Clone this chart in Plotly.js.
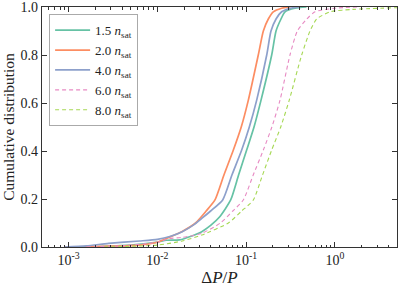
<!DOCTYPE html>
<html>
<head>
<meta charset="utf-8">
<script src="https://cdn.plot.ly/plotly-3.0.1.min.js"></script>
<style>html,body{margin:0;padding:0;background:#fff;}#chart{width:399px;height:288px;}</style>
</head>
<body>
<div id="chart"></div>
<script>
// Series names
const seriesNames = ['1.5 <i>n</i><sub>sat</sub>', '2.0 <i>n</i><sub>sat</sub>', '4.0 <i>n</i><sub>sat</sub>', '6.0 <i>n</i><sub>sat</sub>', '8.0 <i>n</i><sub>sat</sub>'];

// Data: log10(ΔP/P) and cumulative fraction
const logX_15 = [-3.0, -2.6, -2.3, -2.0, -1.9, -1.75, -1.62, -1.5, -1.4, -1.3, -1.174, -1.085, -0.994, -0.911, -0.832, -0.712, -0.663, -0.607, -0.562, -0.45, -0.32];
const cdf_15  = [0, 0.003, 0.008, 0.02, 0.028, 0.03, 0.045, 0.064, 0.09, 0.125, 0.196, 0.3, 0.404, 0.5, 0.612, 0.8, 0.9, 0.95, 0.98, 0.995, 1.0];

const logX_20 = [-3.05, -2.6, -2.2, -2.0, -1.87, -1.72, -1.57, -1.45, -1.351, -1.25, -1.144, -1.055, -0.975, -0.863, -0.806, -0.75, -0.694, -0.6, -0.5];
const cdf_20  = [0, 0.003, 0.008, 0.02, 0.04, 0.065, 0.1, 0.15, 0.196, 0.3, 0.404, 0.5, 0.612, 0.8, 0.9, 0.95, 0.98, 0.995, 1.0];

const logX_40 = [-3.05, -2.8, -2.55, -2.2, -2.0, -1.85, -1.72, -1.6, -1.497, -1.4, -1.264, -1.16, -1.05, -0.964, -0.881, -0.768, -0.72, -0.663, -0.6, -0.5, -0.39];
const cdf_40  = [0, 0.005, 0.015, 0.025, 0.032, 0.045, 0.064, 0.09, 0.12, 0.15, 0.196, 0.3, 0.404, 0.5, 0.612, 0.8, 0.9, 0.95, 0.98, 0.995, 1.0];

const logX_60 = [-2.8, -2.4, -2.0, -1.87, -1.72, -1.5, -1.29, -1.15, -1.032, -0.92, -0.806, -0.71, -0.618, -0.506, -0.423, -0.317, -0.224, 0.0, 0.25];
const cdf_60  = [0, 0.005, 0.02, 0.035, 0.04, 0.057, 0.1, 0.15, 0.196, 0.3, 0.404, 0.5, 0.612, 0.8, 0.9, 0.95, 0.98, 0.995, 1.0];

const logX_80 = [-2.6, -2.0, -1.72, -1.5, -1.2, -1.05, -0.919, -0.815, -0.712, -0.61, -0.514, -0.374, -0.28, -0.205, -0.055, 0.2, 0.7];
const cdf_80  = [0, 0.008, 0.025, 0.05, 0.1, 0.15, 0.196, 0.3, 0.404, 0.5, 0.612, 0.8, 0.9, 0.95, 0.98, 0.99, 0.997];

const colors = ['#66c2a5', '#fc8d62', '#8da0cb', '#e78ac3', '#a6d854'];
const dashes = ['solid', 'solid', 'solid', '4px,3px', '4px,3px'];

const xTickVals = [0.001, 0.01, 0.1, 1];
const xTickText = ['10<sup>-3</sup>', '10<sup>-2</sup>', '10<sup>-1</sup>', '10<sup>0</sup>'];

const allLog = [logX_15, logX_20, logX_40, logX_60, logX_80];
const allCdf = [cdf_15, cdf_20, cdf_40, cdf_60, cdf_80];

const traces = allLog.map((lx, i) => ({
  x: lx.map(v => Math.pow(10, v)),
  y: allCdf[i],
  type: 'scatter',
  mode: 'lines',
  name: seriesNames[i],
  line: {color: colors[i], width: i < 3 ? 1.7 : 1.1, dash: dashes[i], shape: 'spline', smoothing: 0.6}
}));

// minor tick positions on log axis
const minorVals = [];
for (let e = -4; e <= 1; e++) {
  for (let k = 2; k <= 9; k++) minorVals.push(k * Math.pow(10, e));
}

const font = {family: '"Liberation Serif", "DejaVu Serif", serif', color: '#222'};

const layout = {
  width: 399, height: 288,
  margin: {l: 42, r: 2, t: 7, b: 41},
  paper_bgcolor: '#fff', plot_bgcolor: '#fff',
  font: Object.assign({size: 14}, font),
  showlegend: true,
  legend: {
    x: 0.02, y: 0.97, xanchor: 'left', yanchor: 'top',
    bgcolor: '#fff', bordercolor: '#aaa', borderwidth: 1,
    font: Object.assign({size: 13}, font),
    itemwidth: 35,
    tracegroupgap: 0
  },
  xaxis: {
    type: 'log',
    range: [-3.3, 0.7],
    tickmode: 'array', tickvals: xTickVals, ticktext: xTickText,
    ticks: 'inside', ticklen: 5, tickwidth: 1, tickcolor: '#333',
    showline: true, linecolor: '#333', linewidth: 1.2, mirror: 'ticks',
    showgrid: false, zeroline: false,
    ticklabeloverflow: 'allow',
    tickfont: Object.assign({size: 14}, font),
    minor: {tickmode: 'array', tickvals: minorVals, ticks: 'inside', ticklen: 2.5, tickcolor: '#333', showgrid: false},
    title: {text: 'Δ<i>P</i>/<i>P</i>', font: Object.assign({size: 17}, font), standoff: 2}
  },
  yaxis: {
    range: [0, 1],
    tickmode: 'array', tickvals: [0, 0.2, 0.4, 0.6, 0.8, 1.0],
    tickformat: '.1f',
    ticks: 'inside', ticklen: 5, tickwidth: 1, tickcolor: '#333',
    showline: true, linecolor: '#333', linewidth: 1.2, mirror: 'ticks',
    showgrid: false, zeroline: false,
    ticklabeloverflow: 'allow',
    tickfont: Object.assign({size: 14}, font),
    title: {text: 'Cumulative distribution', font: Object.assign({size: 15.5}, font), standoff: 3}
  }
};

Plotly.newPlot('chart', traces, layout, {staticPlot: true, displayModeBar: false});
</script>
</body>
</html>
